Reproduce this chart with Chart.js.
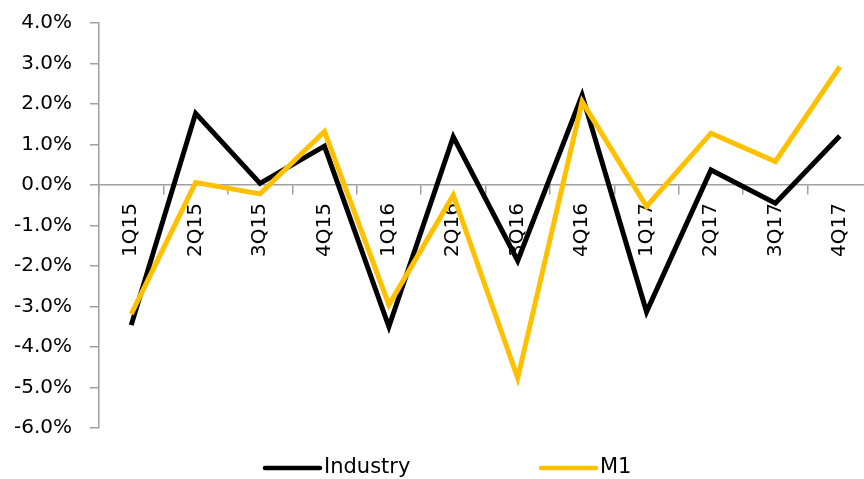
<!DOCTYPE html>
<html lang="en">
    <head>
        <meta charset="UTF-8" />
        <title>Industry vs M1</title>
        <script src="https://cdn.jsdelivr.net/npm/chart.js@4"></script>
        <style>
            body { margin: 0; overflow: hidden; background: #fff; }
        </style>
    </head>
    <body>
        <canvas id="myChart" width="874" height="479"></canvas>
        <script>
            // quarterly % change
            const quarters = ['1Q15', '2Q15', '3Q15', '4Q15', '1Q16', '2Q16', '3Q16', '4Q16', '1Q17', '2Q17', '3Q17', '4Q17'];
            const industry = [-3.46, 1.77, 0.04, 0.96, -3.50, 1.19, -1.87, 2.22, -3.13, 0.37, -0.45, 1.21];
            const m1 = [-3.19, 0.06, -0.22, 1.32, -2.96, -0.25, -4.77, 2.06, -0.53, 1.28, 0.58, 2.92];
            const yMin = -6;
            const yMax = 4;

            const fontFamily = '"DejaVu Sans", sans-serif';
            const axisGrey = '#a0a0a0';

            // legend drawn by hand, Excel-style wide gap between the items
            const bottomLegend = {
                id: 'bottomLegend',
                afterDraw(chart) {
                    const ctx = chart.ctx;
                    const labels = ['Industry', 'M1'];
                    const sets = [chart.data.datasets[1], chart.data.datasets[0]];
                    ctx.save();
                    ctx.font = '21px ' + fontFamily;
                    ctx.textBaseline = 'middle';
                    ctx.fillStyle = '#000';
                    labels.forEach((txt, i) => {
                        const x = 265 + i * 276;
                        const y = 468;
                        ctx.strokeStyle = sets[i].borderColor;
                        ctx.lineWidth = 4.5;
                        ctx.lineCap = 'round';
                        ctx.beginPath();
                        ctx.moveTo(x, y);
                        ctx.lineTo(x + 55, y);
                        ctx.stroke();
                        ctx.fillText(txt, x + 59, y);
                    });
                    ctx.restore();
                }
            };

            const ctx = document.getElementById('myChart').getContext('2d');
            const myChart = new Chart(ctx, {
                type: 'line',
                data: {
                    labels: quarters,
                    datasets: [
                        {
                            label: 'M1',
                            data: m1,
                            borderColor: '#FFC000',
                            backgroundColor: '#FFC000',
                            borderWidth: 5,
                            pointRadius: 0,
                            tension: 0,
                            fill: false,
                            borderJoinStyle: 'miter',
                            order: 0
                        },
                        {
                            label: 'Industry',
                            data: industry,
                            borderColor: '#000000',
                            backgroundColor: '#000000',
                            borderWidth: 5,
                            pointRadius: 0,
                            tension: 0,
                            fill: false,
                            borderJoinStyle: 'miter',
                            order: 1
                        }
                    ]
                },
                options: {
                    responsive: false,
                    animation: false,
                    layout: {
                        padding: { top: 23, bottom: 51, left: 0, right: 2 }
                    },
                    plugins: {
                        legend: { display: false },
                        tooltip: { enabled: false }
                    },
                    scales: {
                        x: {
                            type: 'category',
                            position: { y: 0 },
                            offset: true,
                            afterFit(scale) { scale.paddingTop = 0; scale.paddingBottom = 0; },
                            grid: {
                                offset: true,
                                drawOnChartArea: false,
                                drawTicks: true,
                                tickLength: 9,
                                color: axisGrey,
                                lineWidth: 1.5
                            },
                            border: { color: axisGrey, width: 1.5 },
                            ticks: {
                                minRotation: 90,
                                maxRotation: 90,
                                autoSkip: false,
                                padding: 9,
                                color: '#000',
                                font: { family: fontFamily, size: 20 }
                            }
                        },
                        y: {
                            min: yMin,
                            max: yMax,
                            afterFit(scale) {
                                scale.width = 99;
                                scale.paddingTop = 0;
                                scale.paddingBottom = 0;
                            },
                            grid: {
                                drawOnChartArea: false,
                                drawTicks: true,
                                tickLength: 9,
                                color: axisGrey,
                                lineWidth: 1.5
                            },
                            border: { color: axisGrey, width: 1.5 },
                            ticks: {
                                stepSize: 1,
                                padding: 18,
                                color: '#000',
                                font: { family: fontFamily, size: 20 },
                                callback: v => v.toFixed(1) + '%'
                            }
                        }
                    }
                },
                plugins: [bottomLegend]
            });
        </script>
    </body>
</html>
